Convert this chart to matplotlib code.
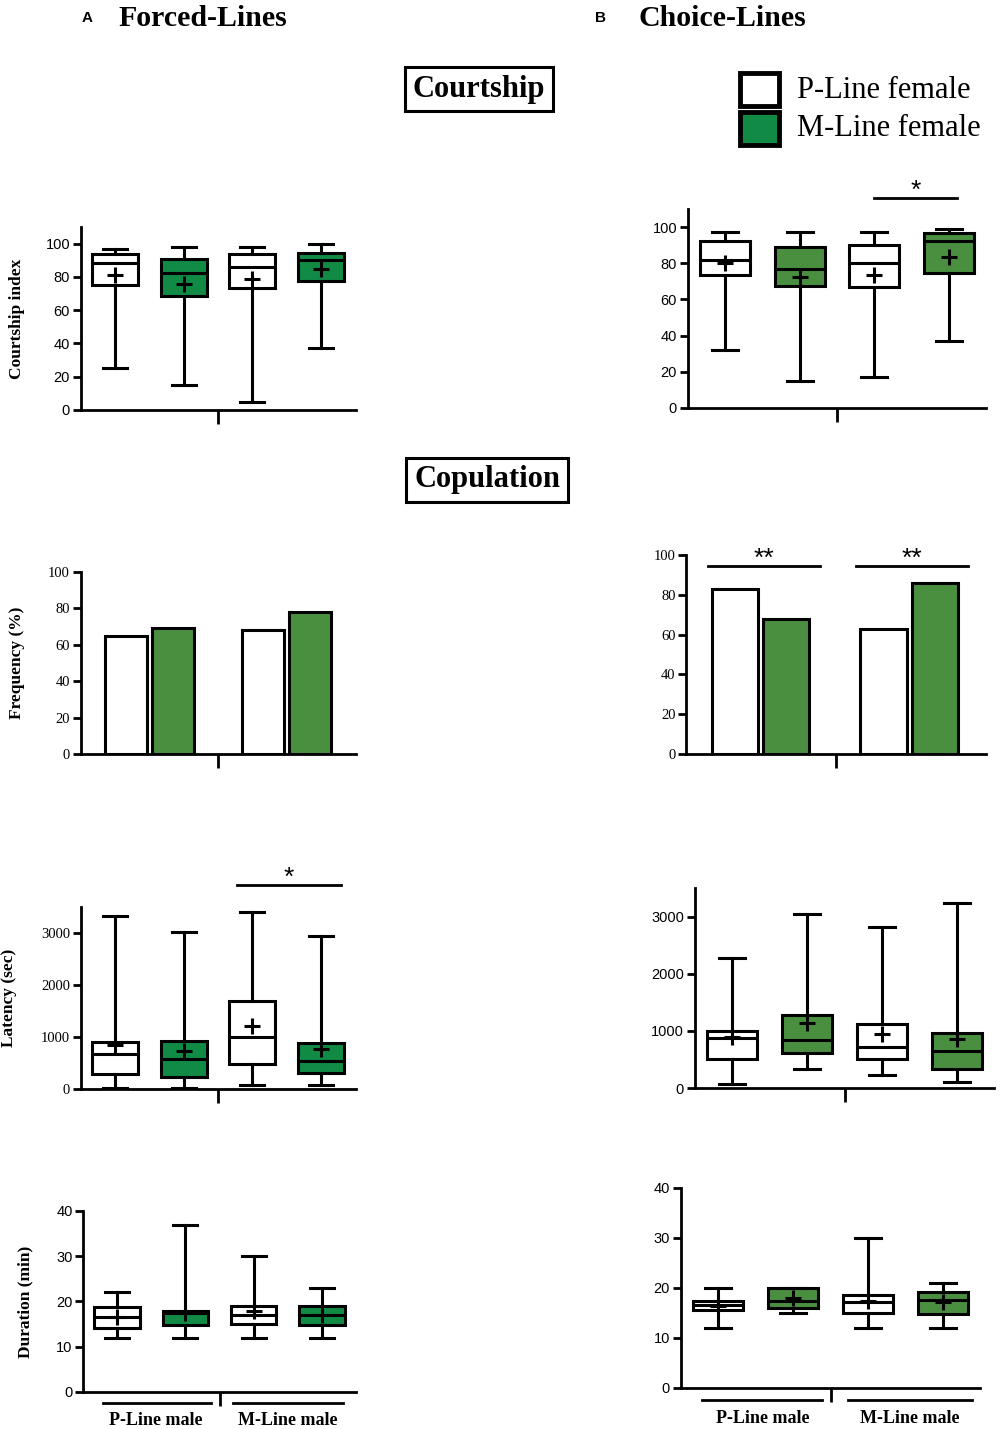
import matplotlib
matplotlib.use("Agg")
import matplotlib.pyplot as plt
from matplotlib.patches import Rectangle
import matplotlib.transforms as mtransforms

SERIF = "Liberation Serif"
SANS = "Liberation Sans"
GREEN_A = "#108a44"
GREEN_B = "#4a8f40"

positions = [1, 2, 3, 4]
group_labels = ["P-Line male", "M-Line male"]
legend_labels = ["P-Line female", "M-Line female"]

# Courtship index - forced lines
court_a_low = [25, 15, 5, 37]
court_a_q1 = [75, 68.5, 73, 77.5]
court_a_med = [88.5, 82.5, 86, 90]
court_a_q3 = [93.5, 90.5, 94, 94.5]
court_a_high = [97, 98, 98, 99.5]
court_a_mean = [81, 75.5, 79, 85]

# Courtship index - choice lines
court_b_low = [32, 15, 17, 37]
court_b_q1 = [73.5, 67.5, 67, 74.5]
court_b_med = [81.5, 77, 80, 92]
court_b_q3 = [92.5, 89, 90, 96.5]
court_b_high = [97, 97, 97, 99]
court_b_mean = [80, 72.5, 73.5, 83.5]

# Copulation frequency (%)
freq_a = [65, 69, 68, 78]
freq_b = [83, 68, 63, 86]

# Copulation latency (sec) - forced lines
lat_a_low = [15, 25, 70, 75]
lat_a_q1 = [290, 240, 485, 305]
lat_a_med = [675, 575, 995, 535]
lat_a_q3 = [910, 930, 1695, 880]
lat_a_high = [3330, 3010, 3395, 2950]
lat_a_mean = [845, 730, 1210, 765]

# Copulation latency (sec) - choice lines
lat_b_low = [70, 330, 235, 110]
lat_b_q1 = [505, 610, 505, 340]
lat_b_med = [880, 845, 715, 645]
lat_b_q3 = [1005, 1270, 1115, 960]
lat_b_high = [2270, 3050, 2810, 3230]
lat_b_mean = [890, 1135, 950, 855]

# Copulation duration (min) - forced lines
dur_a_low = [12, 12, 12, 12]
dur_a_q1 = [14.1, 14.9, 15, 14.9]
dur_a_med = [16.5, 17.4, 17, 17]
dur_a_q3 = [18.7, 18, 19, 19]
dur_a_high = [22, 37, 30, 23]
dur_a_mean = [16.5, 17.5, 17.8, 17]

# Copulation duration (min) - choice lines
dur_b_low = [12, 15, 12, 12]
dur_b_q1 = [15.5, 15.9, 15, 14.7]
dur_b_med = [16.6, 17.3, 17.1, 17.6]
dur_b_q3 = [17.3, 19.9, 18.5, 19.1]
dur_b_high = [20, 20, 30, 21]
dur_b_mean = [16.3, 17.9, 17.3, 17.1]

fig = plt.figure(figsize=(10, 14.29), dpi=100)


def style_axes(ax, ylim, yticks, tickfont):
    ax.set_xlim(0.5, 4.5)
    ax.set_ylim(*ylim)
    ax.set_yticks(yticks)
    ax.set_xticks([2.5])
    ax.set_xticklabels([""])
    for side in ["top", "right"]:
        ax.spines[side].set_visible(False)
    for side in ["left", "bottom"]:
        ax.spines[side].set_linewidth(2)
    ax.tick_params(axis="x", direction="out", length=10, width=2)
    ax.tick_params(axis="y", direction="out", length=6, width=2, pad=1.5,
                   labelsize=10.5)
    for lbl in ax.get_yticklabels():
        lbl.set_fontfamily(tickfont)


def box_panel(rect, low, q1, med, q3, high, mean, green, ylim, yticks, tickfont):
    ax = fig.add_axes(rect)
    stats = []
    for l, a, m, b, h, mu in zip(low, q1, med, q3, high, mean):
        stats.append(dict(whislo=l, q1=a, med=m, q3=b, whishi=h, mean=mu, fliers=[]))
    bp = ax.bxp(stats, positions=positions, widths=0.67, capwidths=0.35,
                patch_artist=True, showmeans=True, showfliers=False,
                meanprops=dict(marker="+", markersize=11, markeredgewidth=2.2,
                               markeredgecolor="black", markerfacecolor="black"),
                boxprops=dict(linewidth=2.2, edgecolor="black"),
                medianprops=dict(color="black", linewidth=2.2),
                whiskerprops=dict(color="black", linewidth=2.2),
                capprops=dict(color="black", linewidth=2.2))
    for patch, c in zip(bp["boxes"], ["white", green, "white", green]):
        patch.set_facecolor(c)
    style_axes(ax, ylim, yticks, tickfont)
    return ax


def bar_panel(rect, values, bar_pos, width, green):
    ax = fig.add_axes(rect)
    ax.bar(bar_pos, values, width=width, color=["white", green, "white", green],
           edgecolor="black", linewidth=2.2)
    style_axes(ax, (0, 100), [0, 20, 40, 60, 80, 100], SERIF)
    return ax


def sig(ax, x0, x1, y, stars):
    ax.plot([x0, x1], [y, y], color="black", linewidth=2, clip_on=False)
    ax.text((x0 + x1) / 2, y, stars, ha="center", va="baseline",
            fontsize=19, family=SANS, clip_on=False)


def group_axis(ax, spans, centers):
    trans = mtransforms.blended_transform_factory(ax.transData, ax.transAxes)
    for (x0, x1), xc, lab in zip(spans, centers, group_labels):
        ax.plot([x0, x1], [-0.06, -0.06], color="black", linewidth=2,
                transform=trans, clip_on=False)
        ax.text(xc, -0.155, lab, transform=trans, ha="center", va="center",
                fontsize=13, fontweight="bold", family=SERIF)


def ylab(ax, text, xpos):
    ax.set_ylabel(text, fontsize=12.5, fontweight="bold", family=SERIF)
    ax.yaxis.set_label_coords(xpos, 0.5)


# Courtship
ax = box_panel([0.0805, 0.7131, 0.275, 0.1281], court_a_low, court_a_q1, court_a_med,
               court_a_q3, court_a_high, court_a_mean, GREEN_A, (0, 110),
               [0, 20, 40, 60, 80, 100], SANS)
ylab(ax, "Courtship index", -0.20)

ax = box_panel([0.6875, 0.7145, 0.299, 0.1393], court_b_low, court_b_q1, court_b_med,
               court_b_q3, court_b_high, court_b_mean, GREEN_B, (0, 110),
               [0, 20, 40, 60, 80, 100], SANS)
sig(ax, 3.0, 4.1, 116, "*")

# Frequency
ax = bar_panel([0.0805, 0.4724, 0.275, 0.1274], freq_a, [1.16, 1.84, 3.16, 3.84], 0.61, GREEN_B)
ylab(ax, "Frequency (%)", -0.20)

ax = bar_panel([0.686, 0.4724, 0.300, 0.1393], freq_b, [1.15, 1.83, 3.13, 3.82], 0.62, GREEN_B)
sig(ax, 0.79, 2.29, 94.5, "**")
sig(ax, 2.77, 4.26, 94.5, "**")

# Latency
ax = box_panel([0.0805, 0.2379, 0.275, 0.1274], lat_a_low, lat_a_q1, lat_a_med,
               lat_a_q3, lat_a_high, lat_a_mean, GREEN_A, (0, 3500),
               [0, 1000, 2000, 3000], SERIF)
ylab(ax, "Latency (sec)", -0.23)
sig(ax, 2.78, 4.29, 3920, "*")

ax = box_panel([0.6945, 0.2386, 0.300, 0.1400], lat_b_low, lat_b_q1, lat_b_med,
               lat_b_q3, lat_b_high, lat_b_mean, GREEN_B, (0, 3500),
               [0, 1000, 2000, 3000], SANS)

# Duration
ax = box_panel([0.083, 0.0259, 0.273, 0.1267], dur_a_low, dur_a_q1, dur_a_med,
               dur_a_q3, dur_a_high, dur_a_mean, GREEN_A, (0, 40),
               [0, 10, 20, 30, 40], SANS)
ylab(ax, "Duration (min)", -0.18)
group_axis(ax, [(0.79, 2.37), (2.70, 4.31)], [1.57, 3.5])

ax = box_panel([0.6805, 0.0287, 0.300, 0.1400], dur_b_low, dur_b_q1, dur_b_med,
               dur_b_q3, dur_b_high, dur_b_mean, GREEN_B, (0, 40),
               [0, 10, 20, 30, 40], SANS)
group_axis(ax, [(0.79, 2.39), (2.73, 4.39)], [1.59, 3.56])

# Headings
fig.text(0.087, 0.9874, "A", fontsize=11, fontweight="bold", family=SANS,
         ha="center", va="center")
fig.text(0.118, 0.9874, "Forced-Lines", fontsize=21.5, fontweight="bold",
         family=SERIF, ha="left", va="center")
fig.text(0.601, 0.9874, "B", fontsize=11, fontweight="bold", family=SANS,
         ha="center", va="center")
fig.text(0.638, 0.9874, "Choice-Lines", fontsize=21.5, fontweight="bold",
         family=SERIF, ha="left", va="center")

box = dict(boxstyle="square,pad=0.25", facecolor="white", edgecolor="black", linewidth=2.2)
fig.text(0.479, 1 - 89 / 1429, "Courtship", fontsize=22, fontweight="bold",
         family=SERIF, ha="center", va="center", bbox=box)
fig.text(0.487, 1 - 480 / 1429, "Copulation", fontsize=22, fontweight="bold",
         family=SERIF, ha="center", va="center", bbox=box)

# Legend
for i, (lab, c) in enumerate(zip(legend_labels, ["white", GREEN_A])):
    top = 73 + i * 39
    fig.patches.append(Rectangle((0.740, 1 - (top + 33) / 1429), 0.039, 33 / 1429,
                                 transform=fig.transFigure, facecolor=c,
                                 edgecolor="black", linewidth=3.5))
    fig.text(0.797, 1 - (top + 17) / 1429, lab, fontsize=22, family=SERIF,
             ha="left", va="center")

fig.savefig("out.png", dpi=100)
